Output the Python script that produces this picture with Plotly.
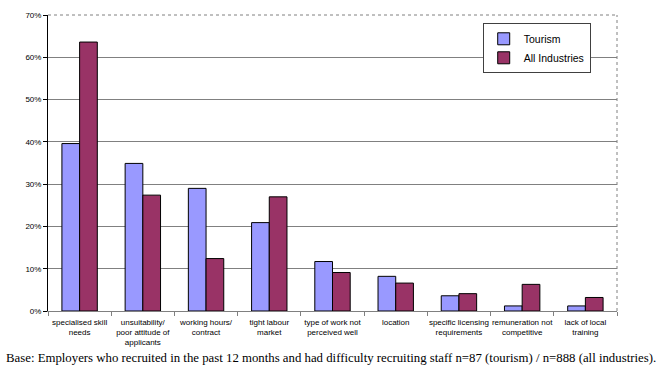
import plotly.graph_objects as go

categories = [
    "specialised skill<br>needs",
    "unsuitability/<br>poor attitude of<br>applicants",
    "working hours/<br>contract",
    "tight labour<br>market",
    "type of work not<br>perceived well",
    "location",
    "specific licensing<br>requirements",
    "remuneration not<br>competitive",
    "lack of local<br>training",
]
tourism = [39.6, 34.9, 29.0, 20.9, 11.7, 8.2, 3.6, 1.2, 1.2]
all_industries = [63.6, 27.4, 12.4, 27.0, 9.1, 6.6, 4.1, 6.3, 3.2]
y_ticks = [0, 10, 20, 30, 40, 50, 60, 70]
footnote = "Base: Employers who recruited in the past 12 months and had difficulty recruiting staff n=87 (tourism) / n=888 (all industries)."

fig = go.Figure()
fig.add_trace(go.Bar(name="Tourism", x=categories, y=tourism,
                     marker=dict(color="#9999FF", line=dict(color="#000000", width=1))))
fig.add_trace(go.Bar(name="All Industries", x=categories, y=all_industries,
                     marker=dict(color="#993366", line=dict(color="#000000", width=1))))

fig.update_layout(
    width=660, height=370,
    margin=dict(l=48, r=43, t=15, b=59),
    paper_bgcolor="white", plot_bgcolor="white",
    barmode="group", bargap=0.44, bargroupgap=0,
    font=dict(family="Arial, Liberation Sans, sans-serif", size=8, color="#000000"),
    showlegend=True,
    legend=dict(x=0.764, y=0.972, xanchor="left", yanchor="top",
                bgcolor="white", bordercolor="#404040", borderwidth=1,
                font=dict(size=10.5, family="Arial, Liberation Sans, sans-serif"),
                itemwidth=30, tracegroupgap=0),
    xaxis=dict(showline=True, linecolor="#808080", linewidth=1,
               ticks="outside", tickson="boundaries", ticklen=4, tickcolor="#808080",
               tickfont=dict(size=8), tickangle=0, ticklabelstandoff=3,
               range=[-0.5, 8.5]),
    yaxis=dict(range=[0, 70], tickvals=y_ticks, ticktext=[f"{v}%" for v in y_ticks],
               showgrid=True, gridcolor="#808080", gridwidth=1,
               showline=True, linecolor="#000000", linewidth=1,
               ticks="outside", ticklen=4, tickcolor="#000000",
               tickfont=dict(size=8), zeroline=False),
)
fig.add_shape(type="line", xref="paper", yref="paper", x0=0, x1=1, y0=1, y1=1,
              line=dict(color="#808080", width=1, dash="dot"))
fig.add_shape(type="line", xref="paper", yref="paper", x0=1, x1=1, y0=0, y1=1,
              line=dict(color="#808080", width=1, dash="dot"))
fig.add_annotation(text=footnote, xref="paper", yref="paper", x=-0.077, y=-0.16,
                   xanchor="left", yanchor="middle", showarrow=False,
                   font=dict(family="Liberation Serif, Times New Roman, serif", size=12.8, color="#000000"))

fig.write_html("out.html", config={"displayModeBar": False},
               post_script="document.body.style.margin='0';")
